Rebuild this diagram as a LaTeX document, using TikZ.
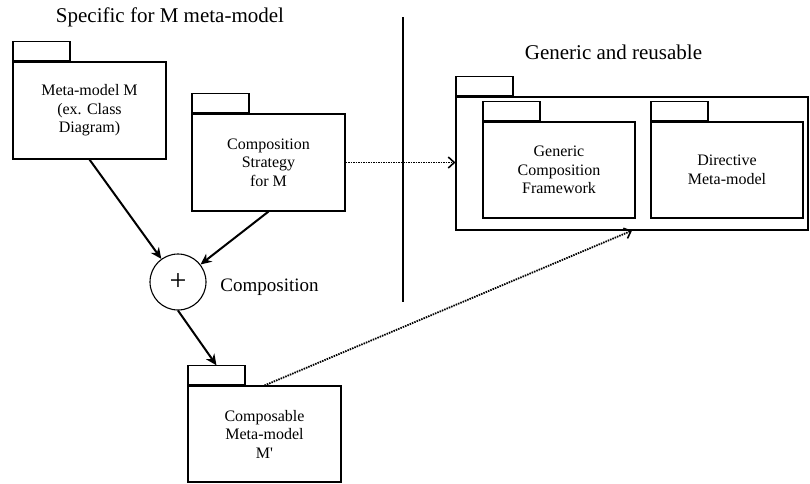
\documentclass[tikz,border=0pt]{standalone}
\usepackage{fontspec}
\setmainfont{Liberation Serif}[Ligatures=TeXOff]
\usetikzlibrary{arrows.meta,calc}
\begin{document}
\begin{tikzpicture}[x=1pt,y=-1pt,
  pkgbody/.style={draw,line width=1.1pt,inner sep=0pt,align=center,
    font=\fontsize{16}{18.5}\selectfont},
  pkgtab/.style={draw,line width=1.1pt,inner sep=0pt,minimum width=57pt,minimum height=19pt,anchor=south west},
  heading/.style={font=\fontsize{21}{25}\selectfont},
  solidarrow/.style={line width=2pt,-{Stealth[length=11pt,width=10pt,inset=3.5pt]}},
  dotarrow/.style={line width=1.8pt,dash pattern=on 1.5pt off 1pt,-{Straight Barb[length=6pt,width=11pt,line width=1.6pt]}}
]
\useasboundingbox (0,0) rectangle (810,483);

% headings
\node[heading] (h1) at (170,17) {Specific for M meta-model};
\node[heading] (h2) at (613.5,52) {Generic and reusable};

% divider
\coordinate (vtop) at (403,17);
\coordinate (vbot) at (403,302);
\draw[line width=1.1pt] (vtop) -- (vbot);

% Meta-model M
\node[pkgbody,minimum width=153pt,minimum height=97pt] (mm) at (89.5,110.5) {Meta-model M\\(ex. Class\\Diagram)};
\node[pkgtab] (mmtab) at (mm.north west) {};

% Composition Strategy
\node[pkgbody,minimum width=153pt,minimum height=97pt] (cs) at (268.5,162.5) {Composition\\Strategy\\for M};
\node[pkgtab] (cstab) at (cs.north west) {};

% Big generic package
\node[pkgbody,minimum width=352pt,minimum height=133pt] (big) at (632,163.5) {};
\node[pkgtab] (bigtab) at (big.north west) {};

\node[pkgbody,minimum width=152pt,minimum height=96pt] (gcf) at (559,170) {Generic\\Composition\\Framework};
\node[pkgtab] (gcftab) at (gcf.north west) {};

\node[pkgbody,minimum width=152pt,minimum height=96pt] (dm) at (727,170) {Directive\\Meta-model};
\node[pkgtab] (dmtab) at (dm.north west) {};

% Composition circle
\node[draw,circle,line width=1.1pt,minimum size=56pt,inner sep=0pt,font=\fontsize{30}{32}\selectfont] (circ) at (178,282) {+};
\node[font=\fontsize{19}{22}\selectfont] (clabel) at (269.5,287) {Composition};

% Composable meta-model
\node[pkgbody,minimum width=153pt,minimum height=96pt] (cmp) at (264.5,434) {Composable\\Meta-model\\M'};
\node[pkgtab] (cmptab) at (cmp.north west) {};

% connectors
\draw[solidarrow] (mm.south) -- (circ);
\draw[solidarrow] (cs.south) -- (circ);
\draw[solidarrow] (circ.south) -- (cmptab.north);
\draw[dotarrow] (cs.east) -- (cs.east -| big.west);
\draw[dotarrow] (cmp.north) -- (big.south);
\end{tikzpicture}
\end{document}
